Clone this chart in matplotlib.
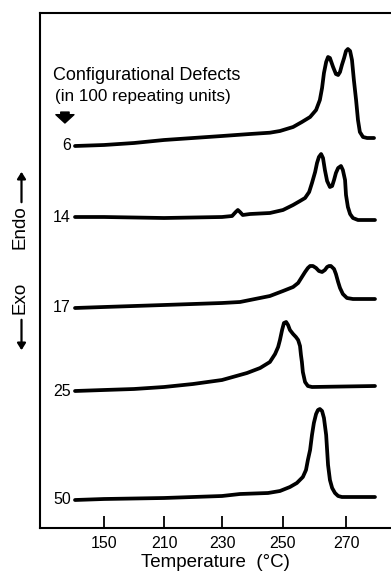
import numpy as np
import matplotlib.pyplot as plt
from matplotlib.patches import FancyArrowPatch

plt.rcParams['font.family'] = ['Liberation Sans', 'DejaVu Sans']

# defects per 100 repeating units, one trace each
defects = ['6', '14', '17', '25', '50']

temp_6 = [121, 150, 180, 210, 220, 230, 239.2, 245.7, 249.0, 253.2, 256.0, 258.6, 260.5,
          261.7, 262.4, 263.0, 263.7, 264.3, 264.9, 265.9, 266.8, 267.5, 268.1, 268.7,
          269.4, 270.0, 270.6, 271.3, 271.9, 272.5, 273.2, 273.8, 274.4, 275.4, 276.7, 278.9]
flow_6 = [0, 1, 3, 6, 8, 10, 12, 13.3, 15, 19, 24, 29, 36,
          46, 58, 73, 84, 89, 88, 79, 72, 71, 74, 81,
          88, 95, 97, 95, 86, 66, 46, 26, 14, 9, 8, 8]

temp_14 = [121, 150, 210, 230, 233.3, 234.5, 235.2, 235.9, 236.8, 239.2, 245.7, 250.0, 253.2,
           255.4, 257.0, 258.3, 259.2, 260.2, 260.8, 261.4, 262.1, 262.7, 263.3, 264.0,
           264.9, 265.6, 266.2, 266.8, 267.5, 268.4, 269.0, 269.7, 270.0, 270.6, 271.3,
           272.2, 273.8, 279.2]
flow_14 = [0, 0, -1, 0, 1, 5, 7, 5, 2, 3, 4, 7, 12,
           16, 19, 25, 34, 45, 54, 60, 63, 59, 47, 36,
           30, 31, 37, 44, 49, 51, 47, 37, 22, 10, 3,
           -1, -3, -3]

temp_17 = [121, 150, 210, 230, 235.9, 245.7, 250.0, 253.2, 254.8, 256.0, 257.0, 257.9, 258.6,
           259.5, 260.5, 261.4, 262.4, 263.3, 264.0, 264.6, 265.2, 266.2, 266.8, 267.5,
           268.1, 269.0, 270.3, 272.2, 279.2]
flow_17 = [0, 1, 3, 5, 6, 12, 17, 21, 25, 31, 36, 40, 42,
           42, 40, 37, 36, 38, 41, 42, 42, 39, 34, 26,
           20, 14, 10, 9, 9]

temp_25 = [121, 150, 180, 210, 220, 230, 238.2, 242.5, 245.7, 247.4, 248.4, 249.0, 249.7,
           250.3, 251.0, 251.6, 252.2, 253.2, 254.1, 254.8, 255.4, 255.7, 256.0, 256.3,
           257.0, 257.9, 259.2, 279.2]
flow_25 = [0, 1, 2, 4, 7, 11, 18, 23, 29, 37, 44, 51, 61,
           68, 69, 66, 61, 57, 54, 51, 45, 36, 29, 19,
           9, 5, 4, 5]

temp_50 = [121, 150, 210, 230, 235.9, 245.1, 249.0, 252.2, 254.4, 256.3, 257.3, 257.9, 258.6,
           259.2, 259.8, 260.5, 261.1, 261.7, 262.4, 263.0, 263.7, 264.0, 264.3, 264.9,
           265.6, 266.5, 267.5, 268.7, 279.2]
flow_50 = [0, 1, 2, 4, 6, 7, 9, 13, 17, 23, 30, 40, 50,
           65, 77, 86, 90, 91, 89, 82, 65, 50, 35, 20,
           12, 7, 4, 3, 3]

temps = [temp_6, temp_14, temp_17, temp_25, temp_50]
flows = [flow_6, flow_14, flow_17, flow_25, flow_50]
offsets = [354, 283, 192, 109, 0]

ticks = [150, 210, 230, 250, 270]
top_ticks = [150, 210, 230, 250]

# the printed temperature axis is not linear: piecewise mapping of the scale
knot_t = [60, 150, 210, 230, 250, 270, 320]
knot_p = [14, 104, 164, 222, 283, 346, 503.5]


def forward(t):
    return np.interp(t, knot_t, knot_p)


def inverse(p):
    return np.interp(p, knot_p, knot_t)


fig = plt.figure(figsize=(3.91, 5.72), dpi=100)
ax = fig.add_axes([40 / 391, 44 / 572, 351 / 391, 515 / 572])
ax.set_xscale('function', functions=(forward, inverse))
ax.set_xlim(inverse(40), inverse(391))
ax.set_ylim(-28, 487)

for label, t, f, off in zip(defects, temps, flows, offsets):
    ax.plot(t, np.array(f) + off, color='black', lw=2.7,
            solid_joinstyle='round', solid_capstyle='round')
    ax.annotate(label, xy=(t[0], off), xytext=(-4, 0), textcoords='offset pixels',
                ha='right', va='center', fontsize=11.5)

ax.set_xticks(ticks)
ax.set_xticklabels([str(v) for v in ticks], fontsize=11.5)
ax.set_xticks(top_ticks, minor=True)
ax.tick_params(which='major', direction='in', length=9, width=1.3, pad=6,
               top=False, bottom=True)
ax.tick_params(which='minor', direction='in', length=9, width=1.3,
               top=True, bottom=False)
ax.set_yticks([])
ax.set_xlabel('Temperature  (°C)', fontsize=13.5, labelpad=2)

for side in ['left', 'top', 'bottom']:
    ax.spines[side].set_linewidth(1.5)
ax.spines['right'].set_visible(False)

ax.text(0.037, 0.878, 'Configurational Defects', transform=ax.transAxes,
        fontsize=13, ha='left', va='center')
ax.text(0.043, 0.838, '(in 100 repeating units)', transform=ax.transAxes,
        fontsize=12.3, ha='left', va='center')
ax.annotate('', xy=(0.071, 0.781), xytext=(0.071, 0.813), xycoords='axes fraction',
            arrowprops=dict(arrowstyle='simple,head_length=0.6,head_width=1.3,tail_width=0.6',
                            color='black'))

# Endo / Exo direction marks left of the frame
fig.text(20 / 391, 345 / 572, 'Endo', rotation=90, ha='center', va='center', fontsize=13.5)
fig.text(20 / 391, 274 / 572, 'Exo', rotation=90, ha='center', va='center', fontsize=13.5)
fig.patches.append(FancyArrowPatch(
    (21.5 / 391, 367 / 572), (21.5 / 391, 403 / 572), transform=fig.transFigure,
    arrowstyle='-|>,head_length=4,head_width=2.5', color='black', lw=1.6))
fig.patches.append(FancyArrowPatch(
    (21.5 / 391, 255 / 572), (21.5 / 391, 219 / 572), transform=fig.transFigure,
    arrowstyle='-|>,head_length=4,head_width=2.5', color='black', lw=1.6))

fig.savefig('out.png', dpi=100)
